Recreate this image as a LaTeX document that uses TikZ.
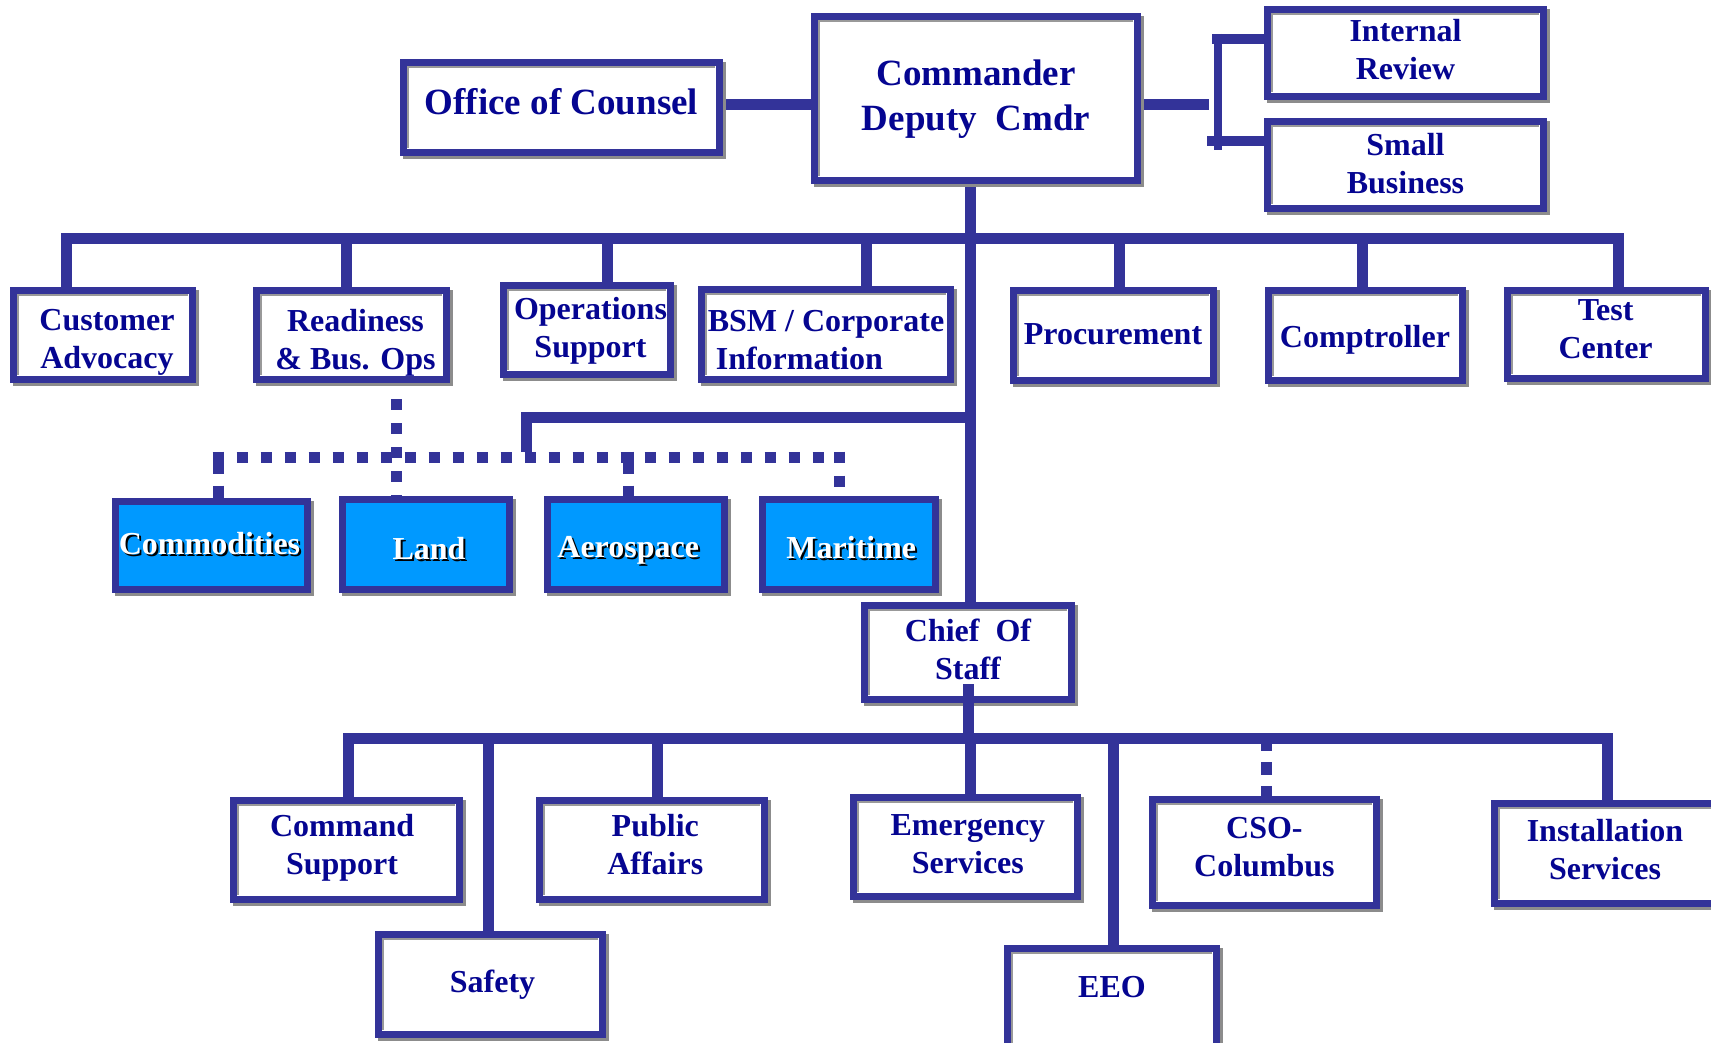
\documentclass[tikz,border=0pt]{standalone}
\usepackage{fontspec}
\setmainfont{Liberation Serif}
\definecolor{lb}{RGB}{51,51,153}
\definecolor{tx}{RGB}{5,5,145}
\definecolor{sky}{RGB}{0,153,255}
\pgfdeclarelayer{bg}
\pgfdeclarelayer{lines}
\pgfsetlayers{bg,lines,main}
\newcommand\shadowtext[1]{\makebox[0pt][l]{\kern2pt\raisebox{-2pt}{\color{black}#1}}#1}
\tikzset{
  box/.style={draw=lb, line width=7pt, fill=white, inner sep=0pt,
    preaction={draw=black!45, line width=7pt, transform canvas={shift={(3pt,-3pt)}}},
    path picture={\draw[black!40, line width=2pt]
      ([shift={(4.5pt,4.5pt)}]path picture bounding box.south west) |-
      ([shift={(-4.5pt,-4.5pt)}]path picture bounding box.north east);}},
  bluebox/.style={box, fill=sky, path picture={}},
  lbl/.style={inner sep=0pt, align=center, text=tx, font=\bfseries\fontsize{32}{38}\selectfont},
  biglbl/.style={lbl, font=\bfseries\fontsize{37}{45}\selectfont},
  bluelbl/.style={lbl, text=white},
  conn/.style={draw=lb, line width=11pt},
  dotline/.style={draw=lb, line width=11pt, dash pattern=on 11pt off 13pt},
  dropdot/.style={draw=lb, line width=11pt, dash pattern=on 22pt off 12pt on 12pt off 60pt},
}
\begin{document}
\begin{tikzpicture}[x=1pt,y=-1pt]
\useasboundingbox (0,0) rectangle (1711,1043);

% top level
\node[box, minimum width=316pt, minimum height=90pt] (office) at (561.5,107.5) {};
\node[biglbl] (officeT) at ([shift={(0,-5.5)}]office.center) {Office of Counsel};
\node[box, minimum width=323pt, minimum height=164pt] (cmdr) at (976,99) {};
\node[biglbl] (cmdrT) at (cmdr.center) {Commander\\Deputy\ \ Cmdr};
\node[box, minimum width=276pt, minimum height=87pt] (intrev) at (1405.5,53.5) {};
\node[lbl] (intrevT) at ([shift={(0,-4)}]intrev.center) {Internal\\Review};
\node[box, minimum width=276pt, minimum height=87pt] (smallbiz) at (1405.5,165) {};
\node[lbl] (smallbizT) at ([shift={(0,-1)}]smallbiz.center) {Small\\Business};

% second row
\node[box, minimum width=179pt, minimum height=89pt] (cust) at (103,335) {};
\node[lbl] (custT) at ([shift={(4,7.5)}]cust.center) {Customer\\Advocacy};
\node[box, minimum width=190pt, minimum height=89pt] (ready) at (351,335) {};
\node[lbl] (readyT) at ([shift={(4.5,7.5)}]ready.center) {Readiness\\\& Bus. Ops};
\node[box, minimum width=167pt, minimum height=89pt] (ops) at (587,330) {};
\node[lbl] (opsT) at ([shift={(3.5,1)}]ops.center) {Operations\\Support};
\node[box, minimum width=249pt, minimum height=90pt] (bsm) at (826,334.5) {};
\node[lbl, align=left] (bsmT) at ([shift={(0,5.5)}]bsm.center) {BSM / Corporate\\\hspace*{8pt}Information};
\node[box, minimum width=200pt, minimum height=90pt] (proc) at (1113,335) {};
\node[lbl] (procT) at ([shift={(0,-1)}]proc.center) {Procurement};
\node[box, minimum width=194pt, minimum height=90pt] (compt) at (1365,335) {};
\node[lbl] (comptT) at ([shift={(0,4.5)}]compt.center) {Comptroller};
\node[box, minimum width=198pt, minimum height=88pt] (test) at (1606.6,334) {};
\node[lbl] (testT) at ([shift={(-1,-4.5)}]test.center) {Test\\Center};

% blue row
\node[bluebox, minimum width=192pt, minimum height=88pt] (commod) at (211.5,545.5) {};
\node[bluelbl] (commodT) at ([shift={(-2,-1)}]commod.center) {\shadowtext{Commodities}};
\node[bluebox, minimum width=167pt, minimum height=90pt] (land) at (426,544) {};
\node[bluelbl] (landT) at ([shift={(3,5.5)}]land.center) {\shadowtext{Land}};
\node[bluebox, minimum width=177pt, minimum height=90pt] (aero) at (635.7,544.5) {};
\node[bluelbl] (aeroT) at ([shift={(-7.5,6.5)}]aero.center) {\shadowtext{Aerospace}};
\node[bluebox, minimum width=173pt, minimum height=90pt] (mari) at (848.8,544.5) {};
\node[bluelbl] (mariT) at ([shift={(2.5,4.5)}]mari.center) {\shadowtext{Maritime}};

% chief of staff
\node[box, minimum width=207pt, minimum height=94pt] (cos) at (968,652.5) {};
\node[lbl] (cosT) at ([shift={(0,-3.3)}]cos.center) {Chief\ \ Of\\Staff};

% bottom row
\node[box, minimum width=226pt, minimum height=99pt] (cmdsup) at (346.5,850) {};
\node[lbl] (cmdsupT) at ([shift={(-4.4,-2.2)}]cmdsup.center) {Command\\Support};
\node[box, minimum width=224pt, minimum height=100pt] (safety) at (490.5,984.5) {};
\node[lbl] (safetyT) at ([shift={(2,0)}]safety.center) {Safety};
\node[box, minimum width=225pt, minimum height=99pt] (public) at (652,850) {};
\node[lbl] (publicT) at ([shift={(3.3,-5.5)}]public.center) {Public\\Affairs};
\node[box, minimum width=224pt, minimum height=99pt] (emerg) at (965.7,847) {};
\node[lbl] (emergT) at ([shift={(2.2,-2.7)}]emerg.center) {Emergency\\Services};
\node[box, minimum width=209pt, minimum height=151pt] (eeo) at (1112,1024) {};
\node[lbl] (eeoT) at (1112,987) {EEO};
\node[box, minimum width=224pt, minimum height=106pt] (cso) at (1264.4,852.5) {};
\node[lbl] (csoT) at ([shift={(0,-5)}]cso.center) {CSO-\\Columbus};
\node[box, minimum width=222pt, minimum height=100pt] (inst) at (1605,853.5) {};
\node[lbl] (instT) at ([shift={(0,-4)}]inst.center) {Installation\\Services};

% line over the Chief of Staff box
\coordinate (cosJ) at (968,684);
\coordinate (bbL) at (348,738);
\coordinate (bbR) at (1607,738);
\draw[conn] (cosJ) -- (cosJ |- bbL);

\begin{pgfonlayer}{bg}
\fill[white] (0,0) rectangle (1711,1043);
\end{pgfonlayer}

\begin{pgfonlayer}{lines}
% commander side links
\coordinate (cmdrR) at (1209,104.5);
\draw[conn] (office.east |- cmdrR) -- (cmdr.west |- cmdrR);
\draw[conn] (cmdr.east |- cmdrR) -- (cmdrR);
\coordinate (brT) at (1218,34);
\coordinate (brB) at (1218,150);
\coordinate (brT1) at (1212,39);
\coordinate (brB1) at (1207,141);
\draw[lb, line width=8pt] (brT) -- (brB);
\draw[lb, line width=10pt] (brT1) -- (intrev.west |- brT1);
\draw[lb, line width=10pt] (brB1) -- (smallbiz.west |- brB1);

% trunk
\draw[conn] (cmdr.south -| 970,0) -- (cos.north -| 970,0);

% top bus
\coordinate (busL) at (66,239);
\coordinate (busR) at (1618,239);
\draw[conn] (cust.north -| busL) -- (busL) -- (busR) -- (test.north -| busR);
\foreach \n/\x in {ready/346,ops/607,bsm/866,proc/1119,compt/1362}
  \draw[conn] (\x,239) -- (\n.north -| \x,0);

% branch to the dotted line
\coordinate (trunkJ) at (970,417.5);
\coordinate (brc) at (526,452);
\draw[conn] (trunkJ) -| (brc);

% dotted lines
\coordinate (dL) at (212.5,457);
\coordinate (dR) at (844.5,457);
\draw[dotline] (dL) -- (dR);
\coordinate (dc) at (218,451.5);
\coordinate (da) at (628,451.5);
\coordinate (dm) at (839,451.5);
\draw[dropdot] (dc) -- (commod.north -| dc);
\draw[dropdot] (da) -- (aero.north -| da);
\draw[dotline] (dm) -- (mari.north -| dm);
\coordinate (rd) at (396,399);
\draw[dotline] (rd) -- (land.north -| rd);

% bottom bus
\draw[conn] (cmdsup.north -| bbL) -- (bbL) -- (bbR) -- (inst.north -| bbR);
\foreach \n/\x in {safety/488,public/657,emerg/970,eeo/1113}
  \draw[conn] (\x,738) -- (\n.north -| \x,0);
\coordinate (cd) at (1266,738);
\draw[lb, line width=11pt, dash pattern=on 13pt off 11pt] (cd) -- (cso.north -| cd);
\end{pgfonlayer}
\end{tikzpicture}
\end{document}
